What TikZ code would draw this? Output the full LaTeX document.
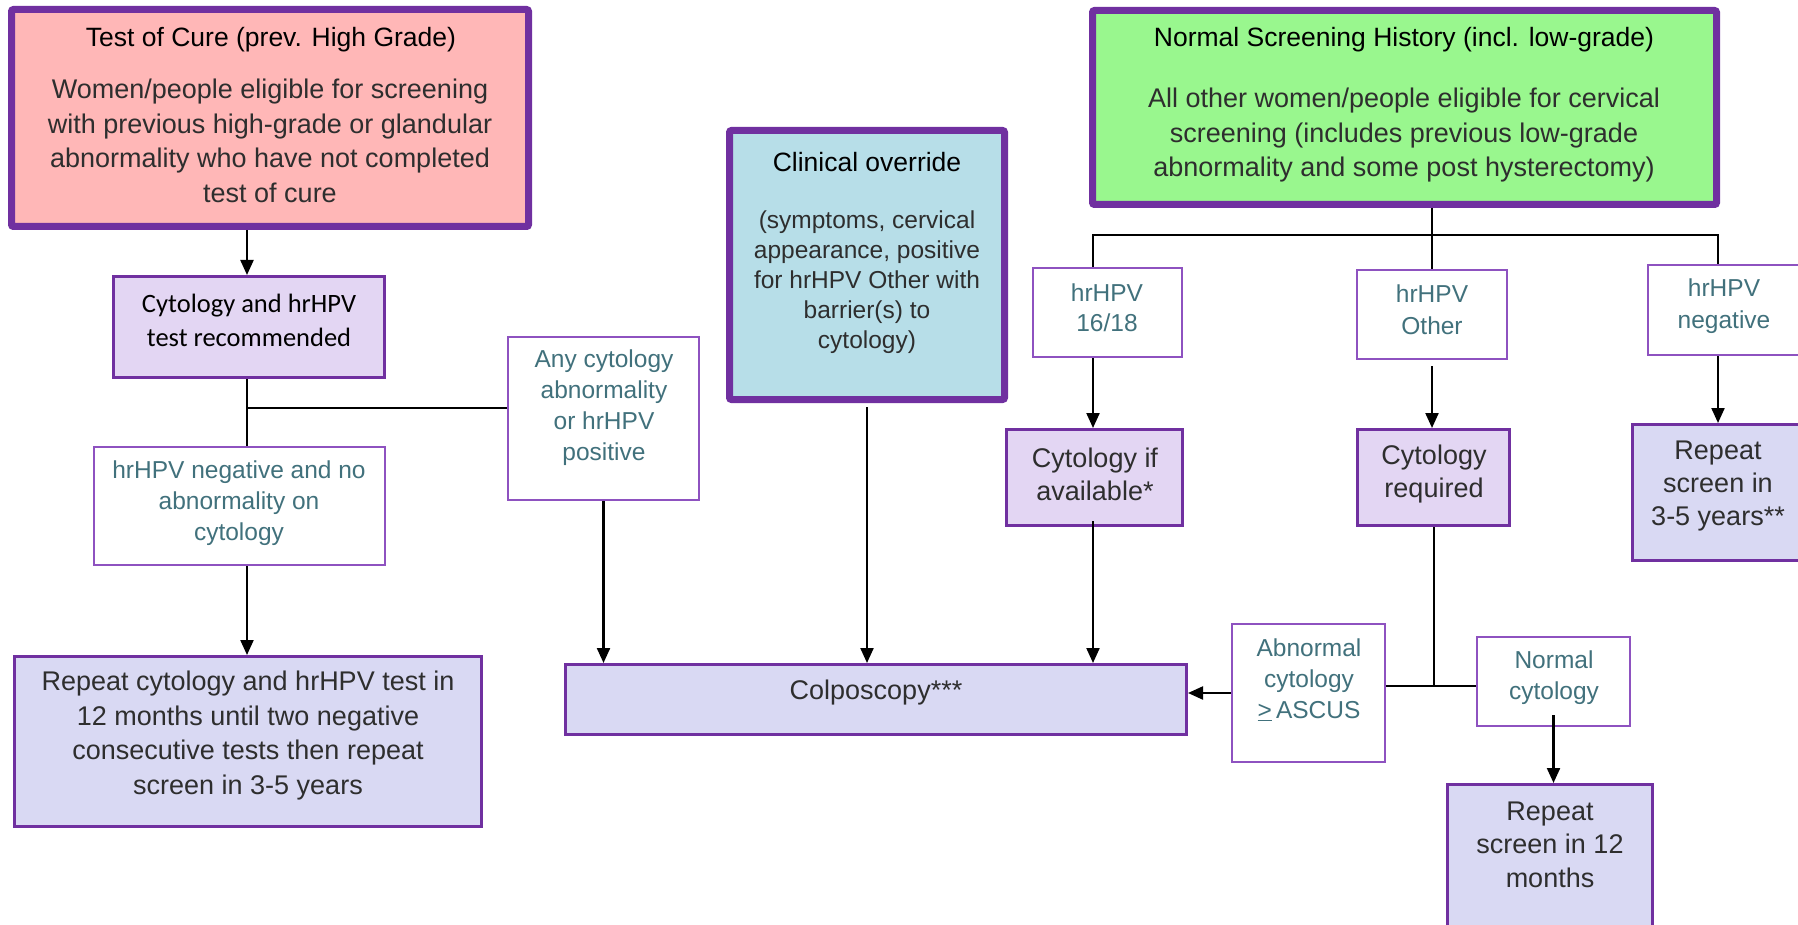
\documentclass[tikz,border=0pt]{standalone}
\usepackage{fontspec}
\setmainfont{Liberation Sans}
\newfontfamily\calib{Carlito}
\usetikzlibrary{arrows.meta}
\definecolor{purp}{HTML}{7030A0}
\definecolor{lblline}{HTML}{8E52C0}
\definecolor{pinkF}{HTML}{FFB7B7}
\definecolor{blueF}{HTML}{B7DEE8}
\definecolor{greenF}{HTML}{99F78E}
\definecolor{lavF}{HTML}{E3D6F3}
\definecolor{repF}{HTML}{D9D9F3}
\definecolor{tealT}{HTML}{41717C}
\definecolor{grayT}{HTML}{2E2E2E}
\tikzset{
  thickbox/.style={draw=purp, line width=7pt, rounded corners=2pt, inner sep=0pt},
  midbox/.style={draw=purp, line width=3pt, inner sep=0pt},
  lblbox/.style={draw=lblline, line width=1.6pt, fill=white, inner sep=0pt},
  titletxt/.style={align=center, inner sep=0pt, text=black, font=\fontsize{26.5}{34}\selectfont},
  bodytxt/.style={align=center, inner sep=0pt, text=grayT, font=\fontsize{27}{34.5}\selectfont},
  lbltxt/.style={align=center, inner sep=0pt, text=tealT, font=\fontsize{24.5}{31}\selectfont},
  conn/.style={draw=black, line width=2.2pt},
  arr/.style={conn, -{Triangle[length=15pt,width=13pt]}},
}
\begin{document}
\begin{tikzpicture}[x=1pt,y=-1pt]
\useasboundingbox (0,0) rectangle (1798,925);

% ---- boxes ----
\node[thickbox, fill=pinkF, minimum width=517pt, minimum height=217pt] (tocB) at (270,118) {};
\node[thickbox, fill=blueF, minimum width=275pt, minimum height=269pt] (coB) at (867,265) {};
\node[thickbox, fill=greenF, minimum width=624pt, minimum height=194pt] (nsB) at (1404.5,107.5) {};
\node[midbox, fill=lavF, minimum width=271pt, minimum height=101pt] (cytB) at (249,327) {};
\node[lblbox, minimum width=291.5pt, minimum height=118.5pt] (negB) at (239.5,506) {};
\node[midbox, fill=repF, minimum width=467pt, minimum height=170pt] (repB) at (248,741.5) {};
\node[lblbox, minimum width=191.5pt, minimum height=163.5pt] (anyB) at (603.5,418.5) {};
\node[midbox, fill=repF, minimum width=621pt, minimum height=70pt] (colB) at (876,699.5) {};
\node[lblbox, minimum width=149.5pt, minimum height=89.5pt] (b1618) at (1107.5,312.5) {};
\node[midbox, fill=lavF, minimum width=176pt, minimum height=96pt] (cavB) at (1094.5,477.5) {};
\node[lblbox, minimum width=150.5pt, minimum height=89.5pt] (othB) at (1432,314.5) {};
\node[midbox, fill=lavF, minimum width=152pt, minimum height=96pt] (creqB) at (1433.5,477.5) {};
\node[lblbox, minimum width=153.5pt, minimum height=90.5pt] (hnegB) at (1724.5,310) {};
\node[midbox, fill=repF, minimum width=168pt, minimum height=136pt] (r35B) at (1716.5,492.5) {};
\node[lblbox, minimum width=153.5pt, minimum height=138.5pt] (abnB) at (1308.5,693) {};
\node[lblbox, minimum width=153.5pt, minimum height=89.5pt] (ncB) at (1553.5,681.5) {};
\node[midbox, fill=repF, minimum width=205pt, minimum height=142pt] (r12B) at (1550,855.5) {};

% ---- texts ----
\node[titletxt] (tocT) at (271,40) {Test of Cure (prev. High Grade)};
\node[bodytxt] (tocD) at (270,141) {Women/people eligible for screening\\with previous high-grade or glandular\\abnormality who have not completed\\test of cure};
\node[titletxt] (nsT) at (1404,40) {Normal Screening History (incl. low-grade)};
\node[bodytxt] (nsD) at (1404,135.5) {All other women/people eligible for cervical\\screening (includes previous low-grade\\abnormality and some post hysterectomy)};
\node[titletxt] (coT) at (867,162) {Clinical override};
\node[bodytxt, font=\fontsize{24.5}{30}\selectfont] (coD) at (867,282) {(symptoms, cervical\\appearance, positive\\for hrHPV Other with\\barrier(s) to\\cytology)};
\node[align=center, inner sep=0pt, text=black, font=\calib\fontsize{26.5}{33.5}\selectfont] (cytT) at (249,320.5) {Cytology and hrHPV\\test recommended};
\node[lbltxt] (negT) at (239,503.5) {hrHPV negative and no\\abnormality on\\cytology};
\node[lbltxt] (anyT) at (604,407.5) {Any cytology\\abnormality\\or hrHPV\\positive};
\node[bodytxt] (repT) at (248,735.5) {Repeat cytology and hrHPV test in\\12 months until two negative\\consecutive tests then repeat\\screen in 3-5 years};
\node[bodytxt] (colT) at (876,693) {Colposcopy***};
\node[lbltxt, font=\fontsize{24.5}{30}\selectfont] (t1618) at (1107,308) {hrHPV\\16/18};
\node[bodytxt, font=\fontsize{27}{33}\selectfont] (cavT) at (1095,474.5) {Cytology if\\available*};
\node[lbltxt, font=\fontsize{24.5}{32}\selectfont] (othT) at (1432,310) {hrHPV\\Other};
\node[bodytxt, font=\fontsize{27}{33}\selectfont] (creqT) at (1434,474.5) {Cytology\\required};
\node[lbltxt, font=\fontsize{24.5}{32}\selectfont] (hnegT) at (1724,306) {hrHPV\\negative};
\node[bodytxt, font=\fontsize{27}{33}\selectfont] (r35T) at (1718,486) {Repeat\\screen in\\3-5 years**};
\node[lbltxt] (abnT) at (1309,680) {Abnormal\\cytology\\\underline{>}\,ASCUS};
\node[lbltxt] (ncT) at (1554,677.5) {Normal\\cytology};
\node[bodytxt, font=\fontsize{27}{33.5}\selectfont] (r12T) at (1550,844.5) {Repeat\\screen in 12\\months};

% ---- connectors ----
\coordinate (j1) at (247,408);
\draw[arr] (j1 |- tocB.south) -- (j1 |- cytB.north);
\draw[conn] (j1 |- cytB.south) -- (j1 |- negB.north);
\draw[conn] (j1) -- (anyB.west |- j1);
\draw[arr] (j1 |- negB.south) -- (j1 |- repB.north);
\draw[arr] (anyB.south) -- (anyB.south |- colB.north);
\draw[arr, shorten <=4pt] (coB.south) -- (coB.south |- colB.north);

\coordinate (t0) at (1432,235);
\coordinate (tL) at (1093,235);
\coordinate (tR) at (1718,235);
\draw[conn] (t0 |- nsB.south) -- (t0 |- othB.north);
\draw[conn] (tL |- b1618.north) -- (tL) -- (tR) -- (tR |- hnegB.north);
\draw[arr] (tL |- b1618.south) -- (tL |- cavB.north);
\draw[arr, shorten <=6pt] (othB.south) -- (othB.south |- creqB.north);
\draw[arr] (tR |- hnegB.south) -- (tR |- r35B.north);
\draw[arr, shorten <=-6pt] (tL |- cavB.south) -- (tL |- colB.north);

\coordinate (j2) at (1434,686);
\draw[conn] (j2 |- creqB.south) -- (j2);
\draw[conn] (abnB.east |- j2) -- (ncB.west |- j2);
\draw[arr] (abnB.west) -- (colB.east |- abnB.west);
\draw[arr, shorten <=-12pt] (ncB.south) -- (ncB.south |- r12B.north);
\end{tikzpicture}
\end{document}
